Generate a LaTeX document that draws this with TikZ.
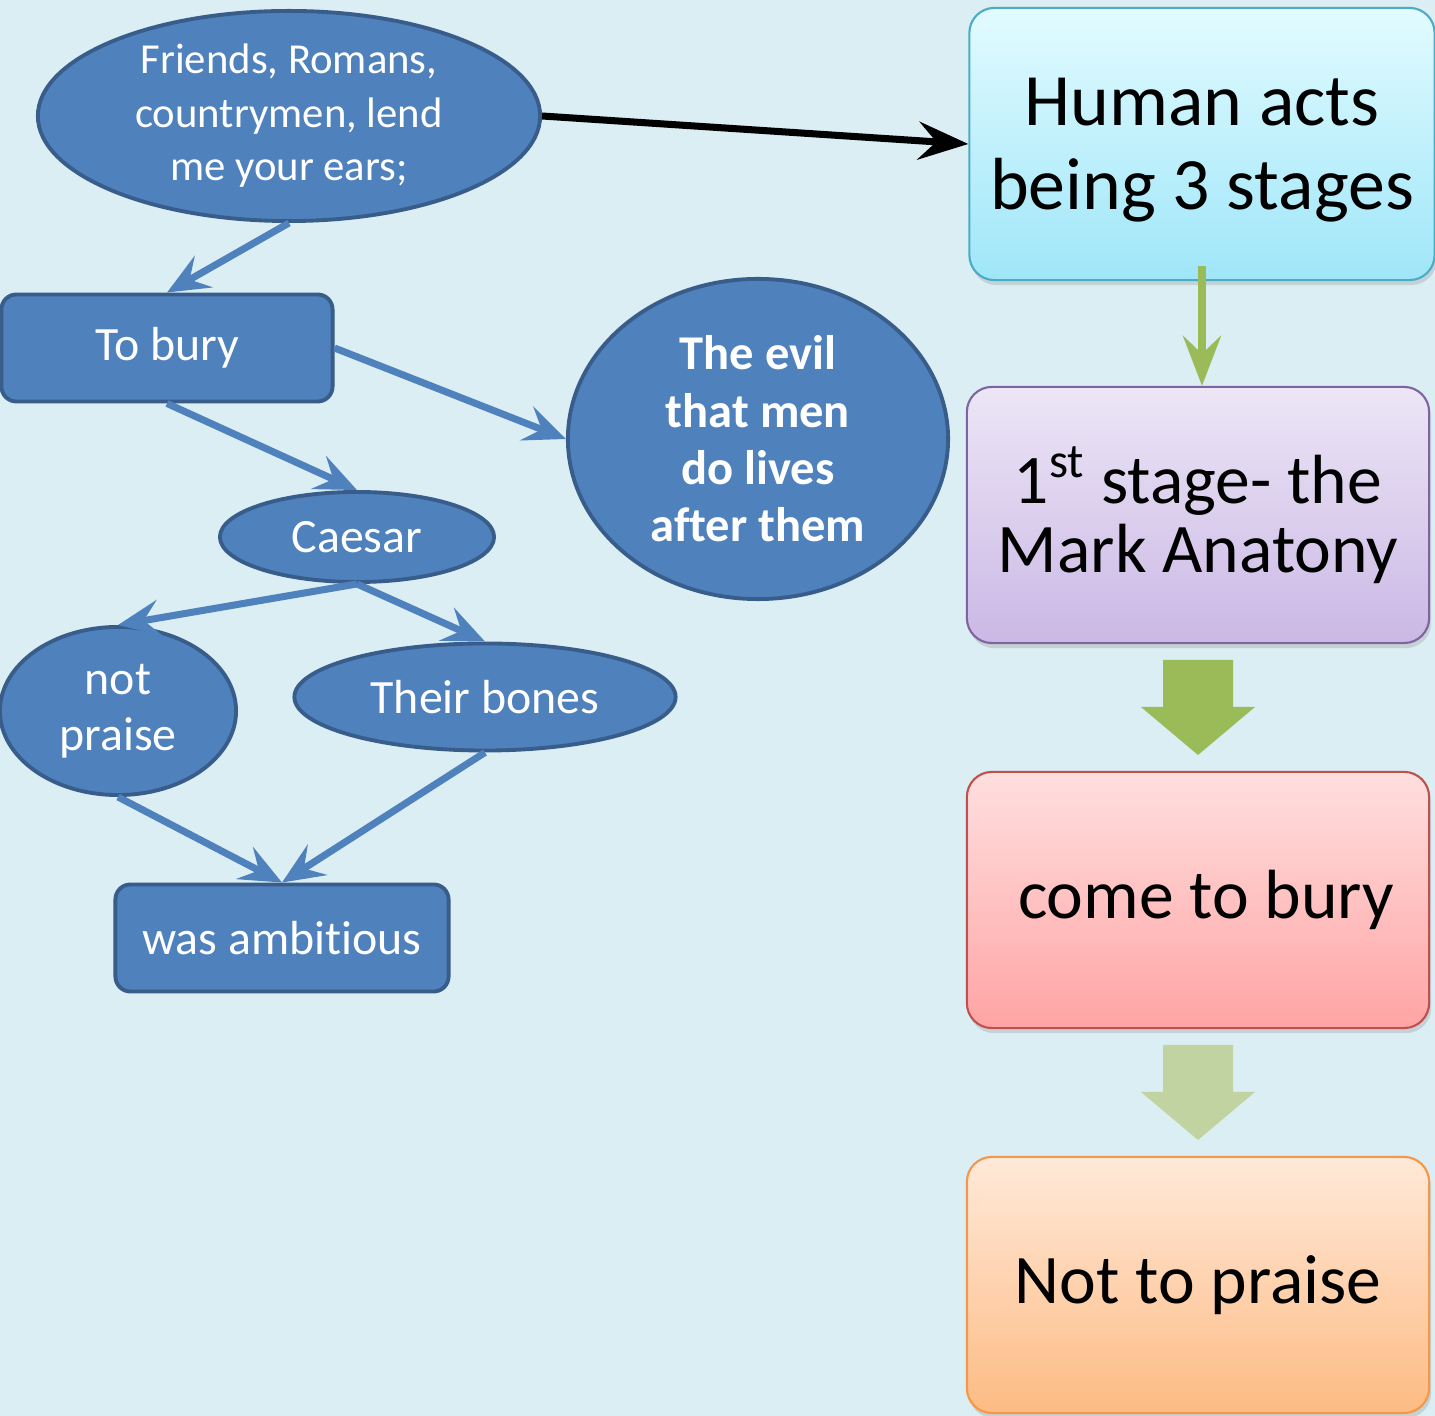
\documentclass[tikz,border=0pt]{standalone}
\usepackage{fontspec}
\setmainfont{Carlito}[Ligatures=NoCommon]
\usetikzlibrary{shapes.geometric,arrows.meta,shadows}

\definecolor{bgblue}{HTML}{DBEEF4}
\definecolor{mapblue}{HTML}{4F81BD}
\definecolor{mapedge}{HTML}{385D8A}
\definecolor{stagegreen}{HTML}{9BBB59}
\definecolor{palegreen}{HTML}{C0D3A0}
\definecolor{humanedge}{HTML}{4BACC6}
\definecolor{humantop}{HTML}{E2FBFF}
\definecolor{humanbot}{HTML}{9FE6F9}
\definecolor{firstedge}{HTML}{8064A2}
\definecolor{firsttop}{HTML}{ECE6F6}
\definecolor{firstbot}{HTML}{CBB8E5}
\definecolor{comeedge}{HTML}{C0504D}
\definecolor{cometop}{HTML}{FFDFDF}
\definecolor{comebot}{HTML}{FFA4A4}
\definecolor{nottoedge}{HTML}{F79646}
\definecolor{nottotop}{HTML}{FFE9D9}
\definecolor{nottobot}{HTML}{FDBB83}

\begin{document}
\begin{tikzpicture}[x=0.01cm,y=-0.01cm,
    bubble/.style={ellipse,draw=mapedge,line width=1.1pt,fill=mapblue,text=white,inner sep=0pt,align=center},
    blob/.style={rectangle,rounded corners=0.15cm,draw=mapedge,line width=1.1pt,fill=mapblue,text=white,align=center},
    stagebox/.style={rectangle,rounded corners=0.25cm,line width=0.6pt,text=black,align=center,
        minimum width=4.62cm,minimum height=2.56cm,
        drop shadow={opacity=0.25,shadow xshift=0.02cm,shadow yshift=-0.05cm},
        font=\fontsize{19.8}{19.5}\selectfont},
    link/.style={draw=mapblue,line width=2pt,-{Stealth[length=0.42cm,width=0.36cm,inset=0.16cm]}}]
    \fill[bgblue] (0,0) rectangle (1435,1416);
    \useasboundingbox (0,0) rectangle (1435,1416);

    % left side: the speech
    \node[bubble,minimum width=5.02cm,minimum height=2.1cm,font=\fontsize{12.15}{15.2}\selectfont] (friends) at (289,116)
        {Friends, Romans,\\countrymen, lend\\me your ears;};
    \node[blob,minimum width=3.31cm,minimum height=1.07cm,font=\fontsize{13.6}{16}\selectfont] (bury) at (167,348) {To bury};
    \node[bubble,minimum width=3.8cm,minimum height=3.2cm,font=\bfseries\fontsize{13.8}{16.3}\selectfont] (evil) at (758,439)
        {The evil\\that men\\do lives\\after them};
    \node[bubble,minimum width=2.74cm,minimum height=0.9cm,font=\fontsize{13.6}{16}\selectfont] (caesar) at (357,537) {Caesar};
    \node[bubble,minimum width=2.36cm,minimum height=1.68cm,font=\fontsize{13.6}{16}\selectfont] (notpr) at (118,711) {not\\praise};
    \node[bubble,minimum width=3.81cm,minimum height=1.07cm,font=\fontsize{13.6}{16}\selectfont] (bones) at (485,697) {Their bones};
    \node[blob,minimum width=3.33cm,minimum height=1.07cm,font=\fontsize{13.6}{16}\selectfont] (ambit) at (282,938) {was ambitious};

    \draw[link] (friends.south) -- (bury.north);
    \draw[link] (bury.east) -- (evil.west);
    \draw[link] (bury.south) -- (caesar.north);
    \draw[link] (caesar.south) -- (notpr.north);
    \draw[link] (caesar.south) -- (bones.north);
    \draw[link] (notpr.south) -- (ambit.north);
    \draw[link] (bones.south) -- (ambit.north);

    % right side: the stages
    \node[stagebox,draw=humanedge,top color=humantop,bottom color=humanbot,minimum width=4.65cm,minimum height=2.72cm,
        font=\fontsize{21}{24}\selectfont] (human) at (1202,144)
        {\rule{0pt}{0.6cm}Human acts\\being 3 stages};
    \node[stagebox,draw=firstedge,top color=firsttop,bottom color=firstbot] (first) at (1198,515)
        {1\textsuperscript{st} stage- the\\Mark Anatony};
    \node[stagebox,draw=comeedge,top color=cometop,bottom color=comebot] (come) at (1198,900) {\hspace*{0.16cm}come to bury};
    \node[stagebox,draw=nottoedge,top color=nottotop,bottom color=nottobot] (notto) at (1198,1285) {Not to praise};

    \draw[line width=2pt,-{Stealth[length=0.5cm,width=0.38cm,inset=0.18cm]}] (friends.east) -- (human.west);
    \draw[stagegreen,line width=2.1pt,shorten <=-0.15cm,-{Stealth[length=0.5cm,width=0.38cm,inset=0.18cm]}] (human.south) -- (human.south |- first.north);

    % block arrows between the stages
    \fill[stagegreen] (1163,660) -- (1233,660) -- (1233,707) -- (1255,707) -- (1198,755) -- (1141,707) -- (1163,707) -- cycle;
    \fill[palegreen] (1163,1045) -- (1233,1045) -- (1233,1092) -- (1255,1092) -- (1198,1140) -- (1141,1092) -- (1163,1092) -- cycle;
\end{tikzpicture}
\end{document}
